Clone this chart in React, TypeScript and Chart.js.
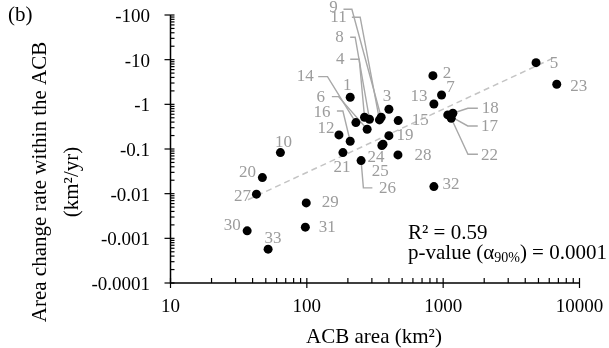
import { useEffect, useRef } from "react";
import { Chart, registerables } from "chart.js";

Chart.register(...registerables);

// ---- data ----
const pointIds = [
  1, 2, 3, 4, 5, 6, 7, 8, 9, 10, 11, 12, 13, 14, 15, 16, 17, 18, 19, 20, 21, 22, 23, 24, 25, 26, 27, 28, 29, 30, 31, 32, 33,
];
const acbArea = [
  208, 841, 400, 265, 4800, 277, 973, 288, 351, 64, 341, 172, 855, 229, 468, 208, 1081, 1178, 400, 47.2, 184, 1146, 6810,
  362, 355, 250, 42.7, 466, 99, 36.5, 97.5, 855, 52,
];
const changeRate = [
  -1.44, -4.39, -0.776, -0.514, -8.57, -0.277, -1.62, -0.464, -0.514, -0.083, -0.448, -0.207, -1.02, -0.39, -0.432, -0.149,
  -0.579, -0.632, -0.199, -0.0229, -0.083, -0.489, -2.82, -0.128, -0.12, -0.055, -0.00975, -0.0738, -0.00622, -0.00147,
  -0.00178, -0.0144, -0.000573,
];
const trendArea = [37, 6760];
const trendRate = [-0.0073, -11.7];
const xTickValues = [10, 100, 1000, 10000];
const yTickValues = [-100, -10, -1, -0.1, -0.01, -0.001, -0.0001];
const panelLabel = "(b)";
const xTitle = "ACB area (km²)";
const yTitleLines = ["Area change rate within the ACB", "(km²/yr)"];
const rSquaredText = "R² = 0.59";
const pValueText = "0.0001";

// ---- layout of point labels (pixel offsets from each point) ----
type LabelPos = { dx: number; dy: number; path?: [number, number][] };
const labelLayout: Record<number, LabelPos> = {
  1: { dx: -3, dy: -12 },
  2: { dx: 14, dy: -2 },
  3: { dx: -2, dy: -13 },
  4: { dx: -24.3, dy: -57.3, path: [[-5.3, -58], [-14.3, -58]] },
  5: { dx: 18, dy: 1 },
  6: { dx: -46.3, dy: -32, path: [[-28.7, -32.6], [-35.3, -32.6]] },
  7: { dx: 9, dy: -7 },
  8: { dx: -30, dy: -82, path: [[-14.3, -82], [-19.3, -82]] },
  9: { dx: -47.7, dy: -110, path: [[-29.3, -108], [-37.7, -108]] },
  10: { dx: 3, dy: -10 },
  11: { dx: -41, dy: -102.7, path: [[-19.3, -102.7], [-27.6, -102.7]] },
  12: { dx: -13, dy: -6 },
  13: { dx: -15, dy: -7 },
  14: { dx: -50.7, dy: -45.7, path: [[-28.4, -46], [-37.7, -46]] },
  15: { dx: 22, dy: 0 },
  16: { dx: -28.3, dy: -28.6, path: [[-7.3, -30.3], [-13.3, -30.3]] },
  17: { dx: 41.6, dy: 11.7, path: [[20, 11], [30, 11]] },
  18: { dx: 37.3, dy: -5, path: [[15, -5], [25, -5]] },
  19: { dx: 16, dy: 0 },
  20: { dx: -15, dy: -5 },
  21: { dx: -1, dy: 15 },
  22: { dx: 38.3, dy: 37, path: [[16.7, 36], [26.7, 36]] },
  23: { dx: 22, dy: 2 },
  24: { dx: -7, dy: 13 },
  25: { dx: -1.7, dy: 26.3 },
  26: { dx: 26.3, dy: 28.3, path: [[2.3, 27.3], [11.3, 27.3]] },
  27: { dx: -14, dy: 2 },
  28: { dx: 25, dy: 1 },
  29: { dx: 24, dy: 0 },
  30: { dx: -15, dy: -5 },
  31: { dx: 22, dy: 0 },
  32: { dx: 17, dy: -2 },
  33: { dx: 5, dy: -11 },
};

const FONT = '"Liberation Serif", "Times New Roman", serif';
const LABEL_GRAY = "#9c9c9c";
const LEADER_GRAY = "#a8a8a8";

const decorPlugin = {
  id: "decor",
  beforeDatasetsDraw(chart: any) {
    const ctx = chart.ctx;
    const meta = chart.getDatasetMeta(0);
    ctx.save();
    ctx.strokeStyle = LEADER_GRAY;
    ctx.lineWidth = 1.4;
    pointIds.forEach((id, i) => {
      const lay = labelLayout[id];
      const el = meta.data[i];
      if (!lay || !lay.path || !el) return;
      ctx.beginPath();
      ctx.moveTo(el.x, el.y);
      lay.path.forEach(([dx, dy]) => ctx.lineTo(el.x + dx, el.y + dy));
      ctx.stroke();
    });
    ctx.restore();
  },
  afterDatasetsDraw(chart: any) {
    const ctx = chart.ctx;
    const meta = chart.getDatasetMeta(0);
    ctx.save();
    ctx.fillStyle = LABEL_GRAY;
    ctx.font = `17px ${FONT}`;
    ctx.textAlign = "center";
    ctx.textBaseline = "middle";
    pointIds.forEach((id, i) => {
      const lay = labelLayout[id];
      const el = meta.data[i];
      if (!lay || !el) return;
      ctx.fillText(String(id), el.x + lay.dx, el.y + lay.dy);
    });
    ctx.restore();
  },
  afterDraw(chart: any) {
    const ctx = chart.ctx;
    const { left, right, top, bottom } = chart.chartArea;
    const xs = chart.scales.x;
    const ys = chart.scales.y;
    ctx.save();
    ctx.strokeStyle = "#000";
    ctx.lineWidth = 1.5;
    // axis lines
    ctx.beginPath();
    ctx.moveTo(left, top);
    ctx.lineTo(left, bottom);
    ctx.lineTo(right, bottom);
    ctx.stroke();
    ctx.lineWidth = 1.2;
    // y ticks
    for (let e = -4; e <= 2; e++) {
      const y = ys.getPixelForValue(Math.pow(10, e));
      ctx.beginPath();
      ctx.moveTo(left - 6, y);
      ctx.lineTo(left + 4, y);
      ctx.stroke();
      if (e < 2) {
        for (let m = 2; m <= 9; m++) {
          const ym = ys.getPixelForValue(m * Math.pow(10, e));
          ctx.beginPath();
          ctx.moveTo(left, ym);
          ctx.lineTo(left + 4, ym);
          ctx.stroke();
        }
      }
    }
    // x ticks
    for (let e = 1; e <= 4; e++) {
      const x = xs.getPixelForValue(Math.pow(10, e));
      ctx.beginPath();
      ctx.moveTo(x, bottom - 5);
      ctx.lineTo(x, bottom + 5);
      ctx.stroke();
      if (e < 4) {
        for (let m = 2; m <= 9; m++) {
          const xm = xs.getPixelForValue(m * Math.pow(10, e));
          ctx.beginPath();
          ctx.moveTo(xm, bottom);
          ctx.lineTo(xm, bottom - 5);
          ctx.stroke();
        }
      }
    }
    ctx.fillStyle = "#000";
    ctx.textBaseline = "middle";
    // y tick labels
    ctx.font = `19px ${FONT}`;
    ctx.textAlign = "right";
    yTickValues.forEach((v) => {
      const y = ys.getPixelForValue(-v);
      ctx.fillText(String(v), left - 20.5, y + 2);
    });
    // x tick labels
    ctx.textAlign = "center";
    xTickValues.forEach((v) => {
      const x = xs.getPixelForValue(v);
      ctx.fillText(String(v), x, bottom + 24);
    });
    // titles
    ctx.font = `21px ${FONT}`;
    ctx.textAlign = "center";
    ctx.fillText(xTitle, (left + right) / 2 - 1, 337);
    ctx.save();
    ctx.translate(40, 182);
    ctx.rotate(-Math.PI / 2);
    ctx.fillText(yTitleLines[0], 0, 0);
    ctx.fillText(yTitleLines[1], 0, 32);
    ctx.restore();
    // panel label
    ctx.textAlign = "left";
    ctx.fillText(panelLabel, 8, 15);
    // stats
    const sx = 408;
    ctx.fillText(rSquaredText, sx, 233);
    let px = sx;
    const py = 253;
    const part1 = "p-value (α";
    ctx.fillText(part1, px, py);
    px += ctx.measureText(part1).width;
    ctx.font = `14px ${FONT}`;
    const sub = "90%";
    ctx.fillText(sub, px, py + 5);
    px += ctx.measureText(sub).width;
    ctx.font = `21px ${FONT}`;
    ctx.fillText(") = " + pValueText, px, py);
    ctx.restore();
  },
};

export default function App() {
  const ref = useRef<HTMLCanvasElement | null>(null);
  useEffect(() => {
    if (!ref.current) return;
    const chart = new Chart(ref.current, {
      type: "scatter",
      data: {
        datasets: [
          {
            label: "ACB",
            data: acbArea.map((a, i) => ({ x: a, y: -changeRate[i] })),
            backgroundColor: "#000",
            borderWidth: 0,
            pointRadius: 4.5,
            order: 1,
          },
          {
            label: "trend",
            data: trendArea.map((a, i) => ({ x: a, y: -trendRate[i] })),
            showLine: true,
            borderColor: "#c4c4c4",
            borderWidth: 1.5,
            borderDash: [6, 4],
            pointRadius: 0,
            order: 2,
          } as any,
        ],
      },
      options: {
        animation: false,
        responsive: false,
        events: [],
        layout: { autoPadding: false, padding: { left: 0, top: 15, right: 29.5, bottom: 0 } },
        plugins: { legend: { display: false }, tooltip: { enabled: false } },
        scales: {
          x: {
            type: "logarithmic",
            min: 10,
            max: 10000,
            grid: { display: false, drawTicks: false },
            border: { display: false },
            afterBuildTicks: (scale: any) => {
              scale.ticks = xTickValues.map((v) => ({ value: v }));
            },
            afterFit: (scale: any) => {
              scale.height = 65;
            },
            ticks: { display: false },
          },
          y: {
            type: "logarithmic",
            min: 0.0001,
            max: 100,
            grid: { display: false, drawTicks: false },
            border: { display: false },
            afterBuildTicks: (scale: any) => {
              scale.ticks = yTickValues.map((v) => ({ value: -v }));
            },
            afterFit: (scale: any) => {
              scale.width = 170.5;
            },
            ticks: { display: false },
          },
        },
      },
      plugins: [decorPlugin],
    });
    return () => chart.destroy();
  }, []);
  return (
    <div style={{ position: "absolute", left: 0, top: 0, width: 609, height: 348, background: "#fff" }}>
      <canvas ref={ref} width={609} height={348} />
    </div>
  );
}
